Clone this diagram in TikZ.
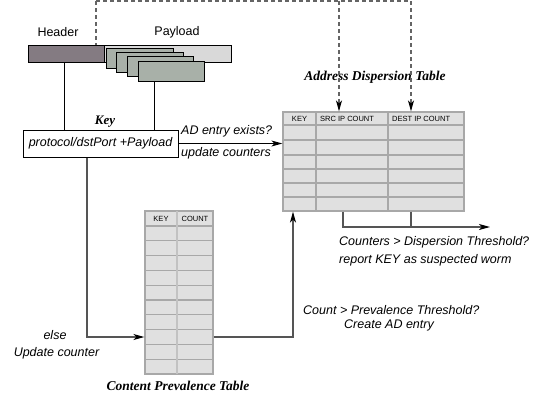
\documentclass[tikz,border=0pt]{standalone}
\usepackage{fontspec}
\setmainfont{Liberation Serif}
\setsansfont{Liberation Sans}
\usetikzlibrary{arrows.meta}
\definecolor{hdrfill}{RGB}{132,123,130}
\definecolor{payfill}{RGB}{217,217,217}
\definecolor{fragfill}{RGB}{168,176,168}
\definecolor{cellfill}{RGB}{224,224,224}
\definecolor{cellline}{RGB}{168,168,168}
\definecolor{flowgray}{RGB}{85,85,85}
\definecolor{dashgray}{RGB}{100,100,100}

\begin{document}
\begin{tikzpicture}[x=1pt, y=-1pt, every node/.style={inner sep=0pt},
	word/.style={font=\sffamily\fontsize{12.5}{14}\selectfont},
	slant/.style={font=\sffamily\itshape\fontsize{12.5}{14}\selectfont},
	title/.style={font=\bfseries\itshape\fontsize{13.5}{15}\selectfont},
	colhead/.style={font=\sffamily\fontsize{7.5}{8}\selectfont},
	flowtip/.style={-{Stealth[length=11pt, width=6pt, inset=3pt, color=black, fill=black]}}]

			\useasboundingbox (0,0) rectangle (539,400);

			% Taps
			\coordinate (tapH) at (96,1);
			\coordinate (tapS) at (339,1);
			\coordinate (tapD) at (411,1);
			% Packet
			\node[draw, line width=1pt, fill=payfill, minimum width=127pt, minimum height=17pt] (payload) at (167.5,53.5) {};
			\node[draw, line width=1pt, fill=hdrfill, minimum width=76pt, minimum height=17pt] (header) at (66,53.5) {};
			\node[draw, line width=1pt, fill=fragfill, minimum width=67pt, minimum height=20pt] (frag1) at (139.5,58) {};
			\node[draw, line width=1pt, fill=fragfill, minimum width=67pt, minimum height=20pt] (frag2) at (149.5,62) {};
			\node[draw, line width=1pt, fill=fragfill, minimum width=66pt, minimum height=20pt] (frag3) at (160.5,66.5) {};
			\node[draw, line width=1pt, fill=fragfill, minimum width=66pt, minimum height=20pt] (frag4) at (171,71) {};
			\node[word] at (58,32) {Header};
			\node[word] at (177,32) {Payload};
			% Key
			\node[draw, line width=1pt, minimum width=155pt, minimum height=27pt, slant] (key) at (100.5,143.5) {protocol/dstPort +Payload};
			\node[title, font=\bfseries\itshape\fontsize{13}{15}\selectfont] at (105,122) {Key};

			% Address Dispersion Table
			\node[draw=cellline, fill=cellfill, line width=1.3pt, minimum width=181pt, minimum height=99pt] (adt) at (373.5,161.5) {};
			\foreach \y in {125,140,155,169,183,197}
				\draw[cellline, line width=1.3pt] (283,\y) -- (464,\y);
			\foreach \x in {316,388}
				\draw[cellline, line width=1.3pt] (\x,112) -- (\x,211);
			\node[colhead] at (299.5,118.5) {KEY};
			\node[colhead, anchor=west] at (320,118.5) {SRC IP COUNT};
			\node[colhead, anchor=west] at (392,118.5) {DEST IP COUNT};
			\node[title] at (375,77) {Address Dispersion Table};

			% Content Prevalence Table
			\node[draw=cellline, fill=cellfill, line width=1.3pt, minimum width=68pt, minimum height=163pt] (cpt) at (179,292.5) {};
			\foreach \i in {0,...,9}
				\draw[cellline, line width=1.3pt] (145,{226+14.8*\i}) -- (213,{226+14.8*\i});
			\draw[cellline!70, line width=1.8pt] (177,211) -- (177,374);
			\node[colhead] at (161,218.5) {KEY};
			\node[colhead] at (195,218.5) {COUNT};
			\node[title] at (178,386) {Content Prevalence Table};

			% Dashed taps
			\draw[dashgray, line width=1.2pt, dash pattern=on 3.5pt off 3.5pt] (tapH) -- (tapD);
			\draw[dashgray, line width=1.2pt, dash pattern=on 3.5pt off 3.5pt] (tapH) -- (tapH |- header.north);
			\draw[dashgray, line width=1.2pt, dash pattern=on 3.5pt off 3.5pt, flowtip] (tapS) -- (tapS |- adt.north);
			\draw[dashgray, line width=1.2pt, dash pattern=on 3.5pt off 3.5pt, flowtip] (tapD) -- (tapD |- adt.north);

			% Packet -> Key
			\draw[line width=1pt] ([xshift=-2pt]header.south) -- ([xshift=-2pt]header.south |- key.north);
			\draw[line width=1pt] ([xshift=-17pt]frag4.south) -- ([xshift=-17pt]frag4.south |- key.north);
			% Key -> ADT
			\draw[line width=1pt, flowtip] (key.east) -- (key.east -| adt.west);
			\node[slant, anchor=west] at (181,131) {AD entry exists?};
			\node[slant, anchor=west] at (181,153) {update counters};
			% Key -> CPT
			\coordinate (elsey) at (0,337);
			\draw[flowgray, line width=1.2pt, flowtip] ([xshift=-13.5pt]key.south) |- (cpt.west |- elsey);
			\node[slant] at (55,335) {else};
			\node[slant] at (56.5,353) {Update counter};
			% CPT -> ADT
			\draw[flowgray, line width=1.2pt, flowtip] (cpt.east |- elsey) -| ([xshift=-80.5pt]adt.south);
			\node[slant, anchor=west] at (303,310) {Count > Prevalence Threshold?};
			\node[slant, anchor=west] at (344,325) {Create AD entry};
			% ADT -> report
			\coordinate (rptend) at (490,227);
			\draw[flowgray, line width=1.2pt, flowtip] ([xshift=-30.5pt]adt.south) |- (rptend);
			\draw[flowgray, line width=1.2pt] ([xshift=37.5pt]adt.south) -- ([xshift=37.5pt]adt.south |- rptend);
			\node[slant, anchor=west] at (339,242) {Counters > Dispersion Threshold?};
			\node[slant, anchor=west] at (339,260) {report KEY as suspected worm};
		\end{tikzpicture}
\end{document}
